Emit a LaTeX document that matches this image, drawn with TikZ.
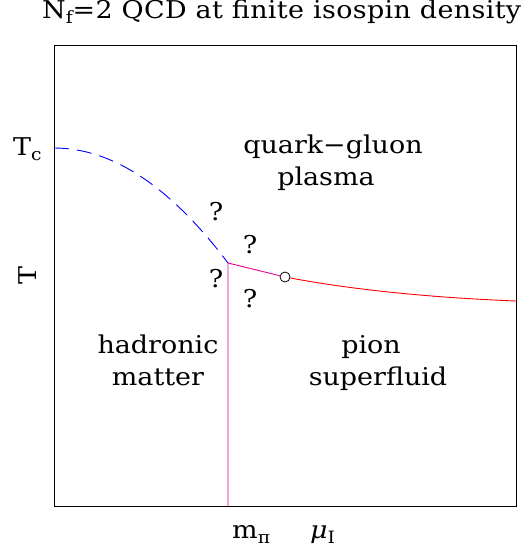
\documentclass[tikz,border=0pt]{standalone}
\usepackage{fontspec}
\setmainfont[FakeStretch=1.1]{DejaVu Serif}
\usepackage{tikz}
\def\xL{54}
\def\xR{516}
\def\yT{45}
\def\yB{506}
\newcommand{\pdfont}{\fontsize{24.5}{30}\selectfont}
\newcommand{\pdsub}[1]{\raisebox{-5pt}{\fontsize{17}{17}\selectfont #1}}
\tikzset{
  pdframe/.style={line width=1pt},
  pdline/.style={line width=0.9pt},
  pdlbl/.style={font=\pdfont, inner sep=0pt, anchor=base},
}
\newcommand{\pdq}[3]{\node[pdlbl] (#1) at (#2,#3) {?};}
\begin{document}
\begin{tikzpicture}[x=1pt, y=-1pt]
  \useasboundingbox (0,0) rectangle (528,554);
  \draw[pdframe] (\xL,\yT) rectangle (\xR,\yB);

  % phase boundaries
  \coordinate (tc) at (\xL,148);
  \coordinate (tri) at (228,263);
  \coordinate (mpi) at (228,\yB);
  \coordinate (rend) at (\xR,301);
  \node[circle, draw, inner sep=0pt, minimum size=10pt, line width=0.8pt] (cep) at (285,277) {};
  \draw[pdline, blue, dash pattern=on 15pt off 8pt] (tc) .. controls (112,148) and (170,186) .. (tri);
  \draw[pdline, magenta] (mpi) -- (tri) -- (cep);
  \draw[pdline, red] (cep) .. controls (352,289.5) and (428,297.5) .. (rend);

  % labels
  \node[pdlbl, anchor=base west, font=\pdfont\addfontfeature{LetterSpace=1.5}] (title) at (42,19) {N\pdsub{f}=2 QCD at finite isospin density};
  \node[pdlbl, anchor=base west] (tclbl) at (13,155) {T\pdsub{c}};
  \node[pdlbl, anchor=center, rotate=90] (tlbl) at (28,276) {T};
  \node[pdlbl, anchor=base west] (mlbl) at (232,538) {m\pdsub{π}};
  \node[pdlbl, anchor=base west] (mulbl) at (310,538) {\itshape μ\pdsub{\upshape I}};
  \node[pdlbl] (qgp) at (333,153) {quark−gluon};
  \node[pdlbl] (plasma) at (326,185) {plasma};
  \node[pdlbl] (had) at (158,353) {hadronic};
  \node[pdlbl] (matter) at (158,385) {matter};
  \node[pdlbl] (pion) at (371,353) {pion};
  \node[pdlbl] (superfl) at (378,385) {superfluid};
  \pdq{q1}{216}{220}
  \pdq{q2}{250}{253}
  \pdq{q3}{216}{287}
  \pdq{q4}{250}{307}
\end{tikzpicture}
\end{document}
